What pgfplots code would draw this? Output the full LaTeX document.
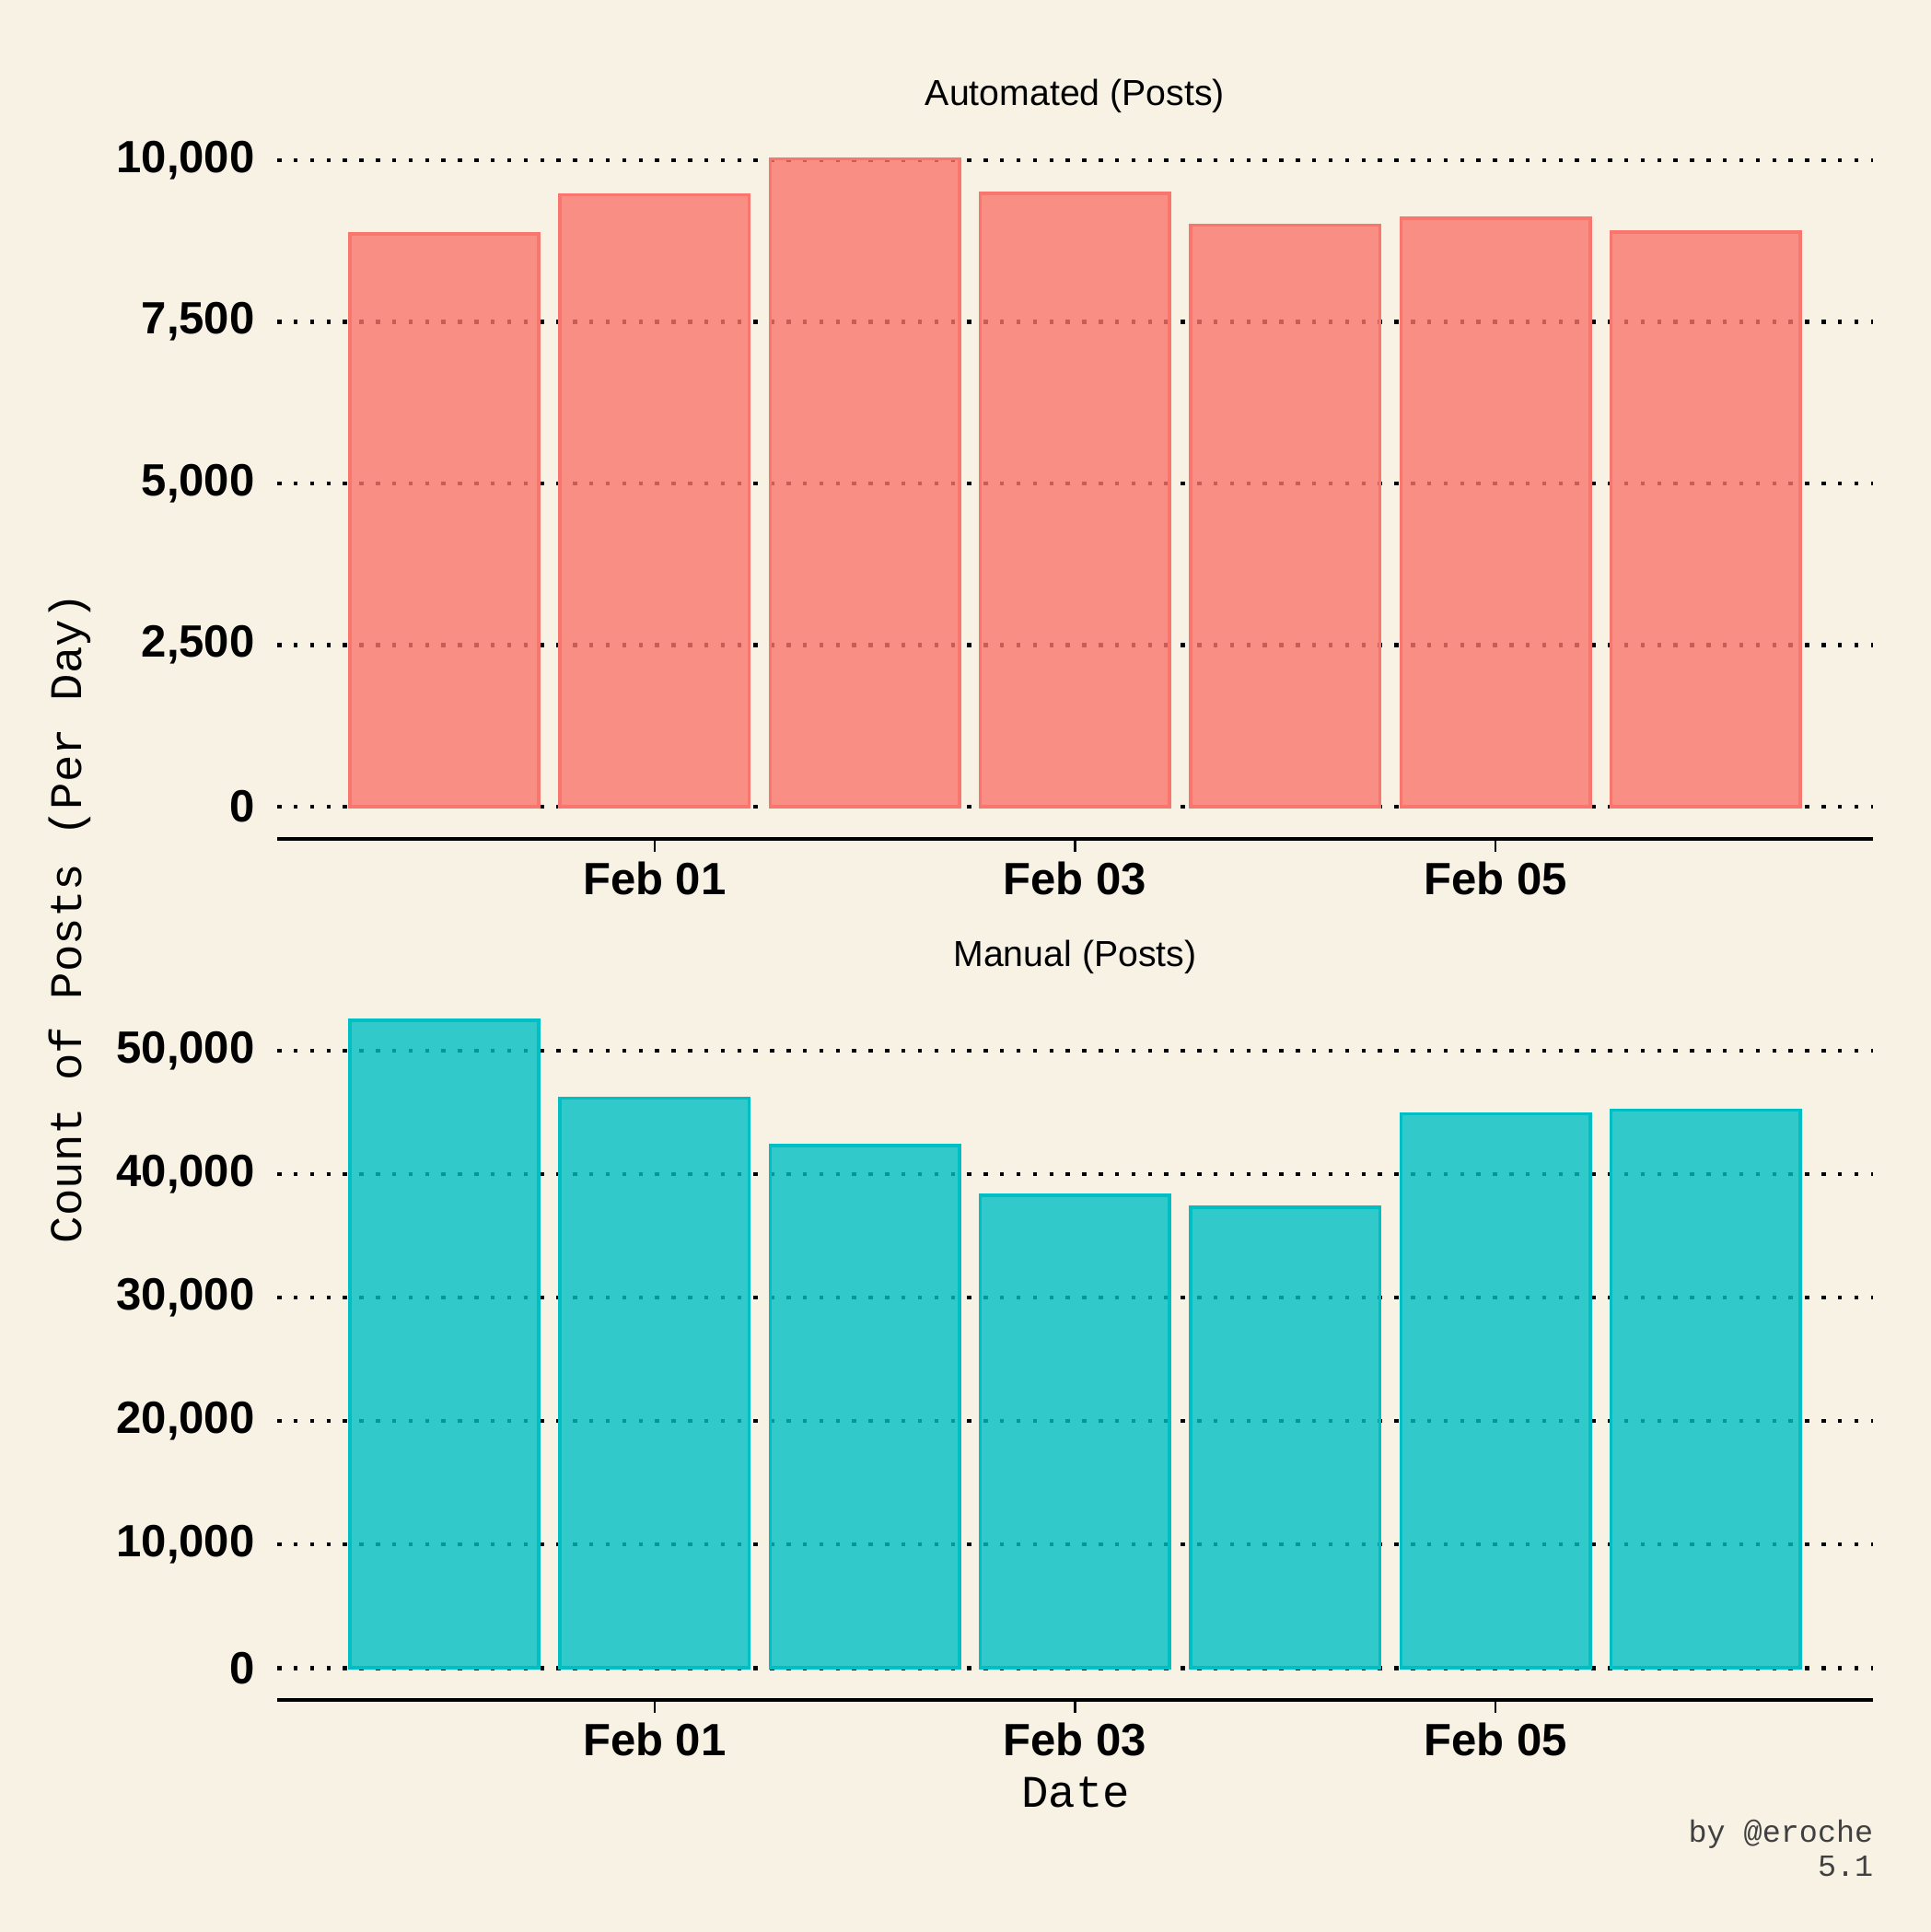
\documentclass[border=0pt]{standalone}
\usepackage{fontspec}
\setmainfont{Liberation Sans}
\setmonofont{Liberation Mono}
\usepackage{pgfplots}
\pgfplotsset{compat=1.18}
\definecolor{bg}{HTML}{F8F2E4}
\definecolor{autoc}{HTML}{F8766D}
\definecolor{manc}{HTML}{00BFC4}
\pgfplotsset{panel/.style={
  scale only axis, width=388.5pt, height=173.5pt,
  xmin=-0.795, xmax=6.795,
  axis x line*=bottom, axis y line*=left,
  y axis line style={draw=none},
  x axis line style={line width=0.9pt, black},
  xtick={1,3,5}, xticklabels={Feb 01,Feb 03,Feb 05},
  tick align=outside, major tick length=3pt,
  xtick style={black, line width=0.6pt},
  ytick style={draw=none},
  ymajorgrids, grid style={black, line width=1pt, dash pattern=on 1pt off 3pt},
  tick label style={font=\fontsize{11}{13}\selectfont\bfseries, inner sep=2.3pt},
  /pgf/number format/assume math mode=true,
  /pgf/number format/1000 sep={,},
  scaled y ticks=false,
  title style={font=\fontsize{8.8}{10}\selectfont, at={(0.5,1)}, anchor=center, yshift=1.4pt},
  ybar, bar width=0.9,
}}
\begin{document}
\begin{tikzpicture}
\fill[bg] (0,0) rectangle (470.1pt,470.4pt);
\begin{axis}[panel, at={(67.5pt,266.1pt)}, anchor=south west,
  title={Automated (Posts)},
  ymin=-501, ymax=10521, ytick={0,2500,5000,7500,10000}]
\addplot[draw=autoc, line width=0.8pt, fill=autoc, fill opacity=0.8] coordinates {
(0,8858) (1,9462) (2,10022) (3,9488) (4,8994) (5,9100) (6,8885)};
\end{axis}
\begin{axis}[panel, at={(67.5pt,56.4pt)}, anchor=south west,
  title={Manual (Posts)},
  ymin=-2624, ymax=55104, ytick={0,10000,20000,30000,40000,50000}]
\addplot[draw=manc, line width=0.8pt, fill=manc, fill opacity=0.8] coordinates {
(0,52470) (1,46170) (2,42300) (3,38300) (4,37320) (5,44900) (6,45200)};
\end{axis}
\node[font=\ttfamily\fontsize{11}{13}\selectfont, rotate=90] at (17.1pt,246.9pt) {Count of Posts (Per Day)};
\node[font=\ttfamily\fontsize{11}{13}\selectfont] at (261.9pt,33.9pt) {Date};
\node[anchor=base east, font=\ttfamily\fontsize{7.5}{9}\selectfont, text=black!75, inner sep=0pt] at (456.3pt,21.8pt) {by @eroche};
\node[anchor=base east, font=\ttfamily\fontsize{7.5}{9}\selectfont, text=black!75, inner sep=0pt] at (456.3pt,13.6pt) {5.1};
\end{tikzpicture}
\end{document}
